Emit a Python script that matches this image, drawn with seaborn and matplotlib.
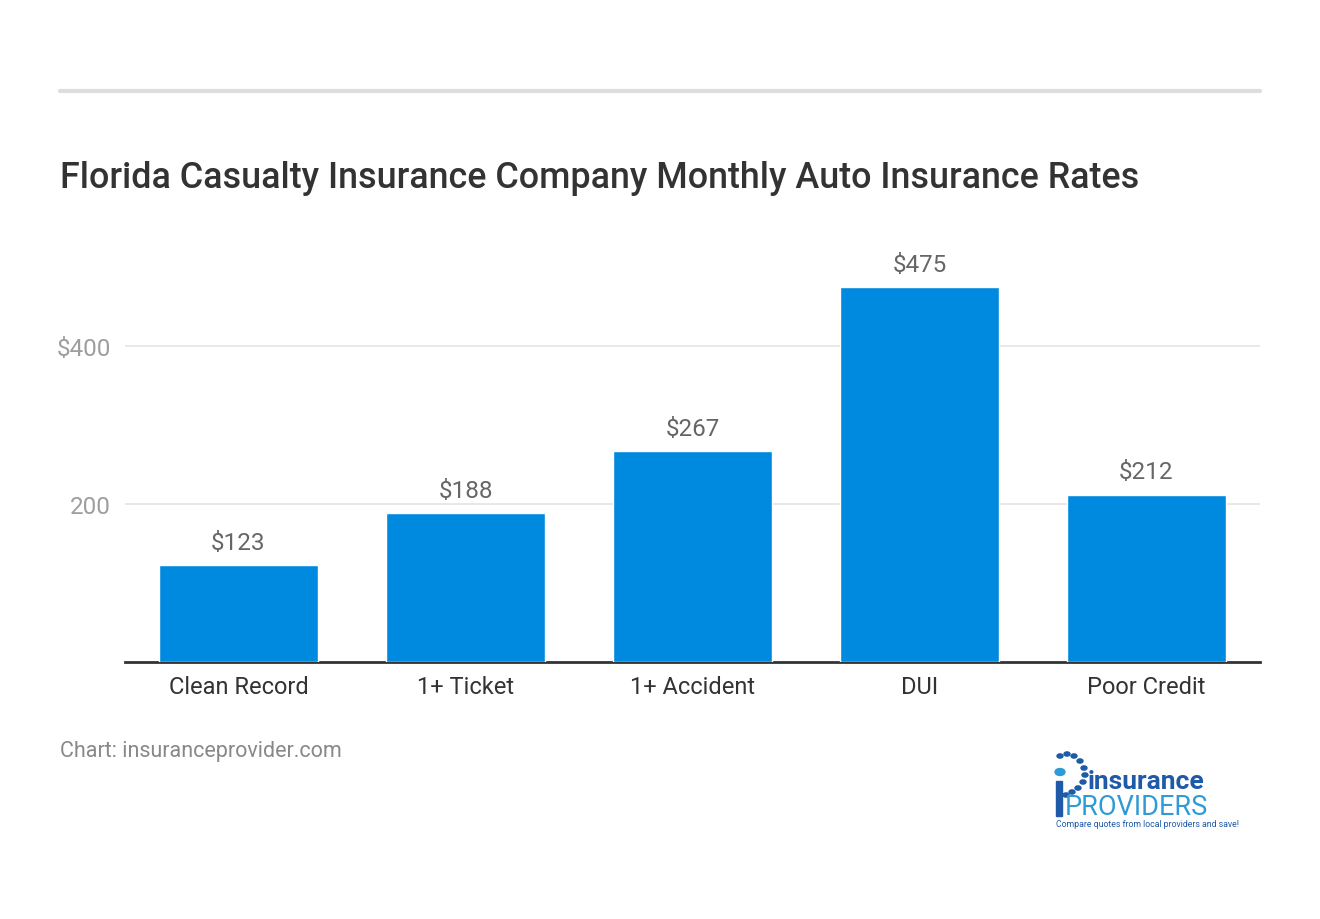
import matplotlib
matplotlib.use("Agg")
import matplotlib.pyplot as plt
import seaborn as sns
import pandas as pd
from matplotlib.lines import Line2D
from matplotlib.patches import Circle, Rectangle

# data
categories = ["Clean Record", "1+ Ticket", "1+ Accident", "DUI", "Poor Credit"]
rates = [123, 188, 267, 475, 212]
value_labels = ["$123", "$188", "$267", "$475", "$212"]
y_ticks = [200, 400]
y_tick_labels = ["200", "$400"]

sns.set_theme(style="white")
plt.rcParams['font.family'] = ['Roboto', 'DejaVu Sans']

df = pd.DataFrame({"category": categories, "rate": rates})

fig = plt.figure(figsize=(13.2, 9.2), dpi=100)
ax = fig.add_axes([125/1320, 1 - 663/920, 1135/1320, 395/920])

sns.barplot(data=df, x="category", y="rate", color="#008ADF", width=0.7,
            saturation=1, ax=ax, zorder=3)

ax.set_ylim(0, 500)
ax.set_yticks(y_ticks)
ax.set_yticklabels(y_tick_labels, color="#9E9E9E", fontsize=17.5)
ax.tick_params(axis="y", length=0, pad=10)
ax.tick_params(axis="x", length=0, pad=9, labelsize=17, labelcolor="#333333")
ax.set_xlabel("")
ax.set_ylabel("")
ax.grid(axis="y", color="#E4E4E4", linewidth=1.2, zorder=0)
for s in ["top", "right", "left"]:
    ax.spines[s].set_visible(False)
ax.spines["bottom"].set_color("#333333")
ax.spines["bottom"].set_linewidth(2)

# value labels above bars
for i, (v, lab) in enumerate(zip(rates, value_labels)):
    ax.annotate(lab, (i, v), xytext=(0, 8), textcoords="offset points",
                ha="center", va="bottom", fontsize=17.5, color="#666666",
                annotation_clip=False)

# top rule and title
fig.add_artist(Line2D([60/1320, 1260/1320], [1 - 92/920] * 2, color="#DDDDDD",
                      linewidth=3))
fig.text(60/1320, 1 - 178/920, "Florida Casualty Insurance Company Monthly Auto Insurance Rates",
         fontsize=25.8, fontweight="medium", color="#333333", va="center", ha="left")

# source
fig.text(60/1320, 1 - 752/920, "Chart: insuranceprovider.com", fontsize=15.5,
         color="#888888", va="center", ha="left")

# logo (approximation)
dots = [(1060, 757), (1067, 755), (1074, 757), (1080, 762), (1084, 769), (1085, 776),
        (1083, 783), (1078, 789), (1072, 793), (1066, 796)]
for (x, y) in dots:
    fig.add_artist(Circle((x/1320, 1 - y/920), 3.0/1320, transform=fig.transFigure,
                          color="#1E5AA8"))
fig.add_artist(Circle((1060/1320, 1 - 773/920), 5/1320, transform=fig.transFigure,
                      color="#2E9BD6"))
fig.add_artist(Rectangle((1056/1320, 1 - 817/920), 6/1320, 35/920,
                         transform=fig.transFigure, color="#1E5AA8"))
fig.text(1088/1320, 1 - 782/920, "insurance", fontsize=19, fontweight="bold",
         color="#1E5AA8", va="center", ha="left")
fig.text(1065/1320, 1 - 808/920, "PROVIDERS", fontsize=19.5, color="#2E9BD6",
         va="center", ha="left")
fig.text(1056/1320, 1 - 825/920, "Compare quotes from local providers and save!",
         fontsize=6.3, color="#1E5AA8", va="center", ha="left")

fig.savefig("out.png", dpi=100, facecolor="white")
